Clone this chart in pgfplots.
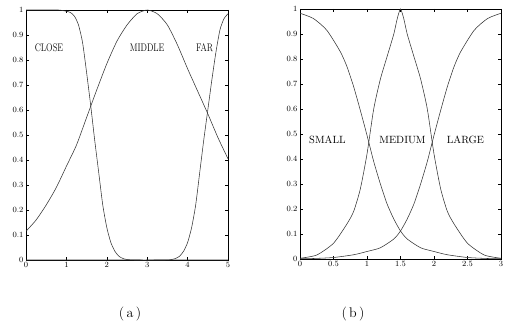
\documentclass[border=0pt]{standalone}
\usepackage{pgfplots}
\pgfplotsset{compat=1.18}
\tikzset{lbl/.style={font=\fontsize{10.5}{12}\selectfont}}
\begin{document}
\begin{tikzpicture}
\path[use as bounding box] (0,0) rectangle (511pt,327pt);
\pgfplotsset{
  mf/.style={scale only axis, height=250pt, ymin=0, ymax=1,
    ytick={0,0.1,0.2,0.3,0.4,0.5,0.6,0.7,0.8,0.9,1},
    tick align=inside, major tick length=3pt,
    tick style={black, line width=0.4pt},
    axis line style={line width=0.6pt},
    ticklabel style={font=\footnotesize},
    xticklabel style={yshift=1pt},
    yticklabel style={xshift=1pt},
    clip=true},
  mfline/.style={black!80, line width=0.55pt, smooth, tension=0.4}
}
\begin{axis}[mf, at={(26pt,67pt)}, anchor=south west, width=202pt,
  xmin=0, xmax=5, xtick={0,1,2,3,4,5}]
% CLOSE
\addplot[mfline] coordinates {(0,1) (0.5,1) (0.8,1) (0.9,0.998) (1.0,0.995) (1.1,0.99) (1.2,0.975) (1.3,0.94) (1.4,0.87) (1.5,0.75) (1.6,0.62) (1.7,0.48) (1.8,0.35) (1.9,0.22) (2.0,0.13) (2.1,0.07) (2.2,0.035) (2.3,0.015) (2.4,0.006) (2.5,0.002) (2.7,0) (3.5,0) (5,0)};
% MIDDLE
\addplot[mfline] coordinates {(0,0.115) (0.25,0.16) (0.5,0.22) (0.75,0.29) (1.0,0.375) (1.25,0.46) (1.5,0.57) (1.75,0.68) (2.0,0.785) (2.25,0.875) (2.5,0.94) (2.75,0.985) (3.0,1.0) (3.25,0.985) (3.5,0.94) (3.75,0.86) (4.0,0.765) (4.25,0.675) (4.5,0.585) (4.75,0.49) (5.0,0.405)};
% FAR
\addplot[mfline] coordinates {(0,0) (2,0) (3.4,0) (3.6,0.002) (3.7,0.006) (3.8,0.015) (3.9,0.035) (4.0,0.07) (4.1,0.13) (4.2,0.22) (4.3,0.35) (4.4,0.48) (4.5,0.60) (4.6,0.72) (4.7,0.83) (4.8,0.92) (4.9,0.965) (5.0,0.985)};
\node[lbl, font=\fontsize{11}{12}\selectfont, xscale=0.78] at (axis cs:0.57,0.85) {CLOSE};
\node[lbl, font=\fontsize{11}{12}\selectfont, xscale=0.78] at (axis cs:3.0,0.85) {MIDDLE};
\node[lbl, font=\fontsize{11}{12}\selectfont, xscale=0.78] at (axis cs:4.42,0.85) {FAR};
\end{axis}
\begin{axis}[mf, at={(300pt,68pt)}, anchor=south west, width=201pt,
  xmin=0, xmax=3, xtick={0,0.5,1,1.5,2,2.5,3}]
% SMALL
\addplot[mfline] coordinates {(0,0.983) (0.2,0.962) (0.4,0.915) (0.6,0.83) (0.7,0.77) (0.8,0.69) (0.9,0.595) (1.0,0.495) (1.1,0.39) (1.2,0.30) (1.3,0.22) (1.4,0.16) (1.5,0.112) (1.6,0.08) (1.8,0.045) (2.0,0.03) (2.2,0.017) (2.5,0.006) (2.8,0.002) (3.0,0.001)};
% MEDIUM
\addplot[mfline] coordinates {(0,0.003) (0.25,0.016) (0.5,0.063) (0.7,0.14) (0.8,0.19) (0.9,0.28) (1.0,0.42) (1.1,0.60) (1.2,0.72) (1.3,0.81) (1.4,0.90) (1.45,0.96) (1.5,1.0) (1.55,0.96) (1.6,0.90) (1.7,0.81) (1.8,0.72) (1.9,0.60) (2.0,0.42) (2.1,0.28) (2.2,0.19) (2.3,0.14) (2.5,0.063) (2.75,0.016) (3.0,0.003)};
% LARGE
\addplot[mfline] coordinates {(0,0.001) (0.2,0.002) (0.5,0.006) (0.8,0.017) (1.0,0.03) (1.2,0.045) (1.4,0.08) (1.5,0.112) (1.6,0.16) (1.7,0.22) (1.8,0.30) (1.9,0.39) (2.0,0.495) (2.1,0.595) (2.2,0.69) (2.3,0.77) (2.4,0.83) (2.6,0.915) (2.8,0.962) (3.0,0.983)};
\node[lbl] at (axis cs:0.41,0.476) {SMALL};
\node[lbl] at (axis cs:1.53,0.476) {MEDIUM};
\node[lbl] at (axis cs:2.47,0.476) {LARGE};
\end{axis}
\node[font=\fontsize{14}{16}\selectfont] at (130pt,13pt) {(\,a\,)};
\node[font=\fontsize{14}{16}\selectfont] at (353pt,13pt) {(\,b\,)};
\end{tikzpicture}
\end{document}
